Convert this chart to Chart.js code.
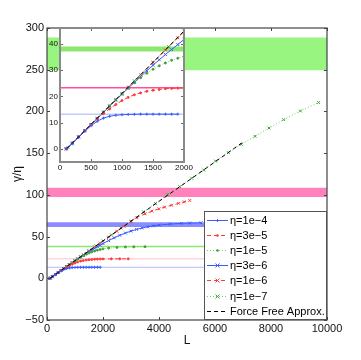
<!DOCTYPE html>
<html><head><meta charset="utf-8">
<script src="https://cdn.jsdelivr.net/npm/chart.js@4.4.1/dist/chart.umd.min.js"></script>
<style>
html,body{margin:0;padding:0;background:#fff;}
#wrap{position:relative;width:361px;height:360px;}
#main{position:absolute;left:0;top:0;width:361px;height:360px;}
#inset{position:absolute;left:40px;top:20px;width:165px;height:160px;}
</style>
</head><body>
<div id="wrap"><canvas id="main" width="361" height="360"></canvas><canvas id="inset" width="165" height="160"></canvas></div>
<script>
// ---------- data ----------
const seriesNames = ['η=1e−4','η=3e−5','η=1e−5','η=3e−6','η=1e−6','η=1e−7','Force Free Approx.'];

const L_1e4 = [100,200,300,400,500,600,700,800,900,1000,1100,1200,1300,1400,1500,1600,1700,1800,1900];
const V_1e4 = [0,2.1,4.4,6.7,8.8,10.5,11.7,12.4,12.8,13.0,13.1,13.15,13.2,13.2,13.2,13.2,13.2,13.2,13.2];

const L_3e5 = [100,200,300,400,500,600,700,800,900,1000,1100,1200,1300,1400,1500,1600,1700,1800,1900,2000,2300,2600,2900];
const V_3e5 = [0,2.2,4.6,6.9,9.2,11.4,13.4,15.2,16.9,18.4,19.6,20.6,21.3,21.9,22.3,22.6,22.9,23.0,23.1,23.2,23.3,23.3,23.3];

const L_1e5 = [100,200,300,400,500,600,700,800,900,1000,1100,1200,1300,1400,1500,1600,1700,1800,1900,2000,2200,2500,2800,3100,3500];
const V_1e5 = [0,2.2,4.6,6.9,9.3,11.6,14.0,16.3,18.6,20.9,23.1,25.2,27.1,28.8,30.3,31.6,32.7,33.7,34.5,35.2,36.2,37.0,37.5,37.7,37.8];

const L_3e6 = [100,200,300,400,500,600,700,800,900,1000,1100,1200,1300,1400,1500,1600,1700,1800,1900,2000,2200,2400,2600,2800,3000,3200,3400,3600,3800,4000,4400,4800,5100,5500];
const V_3e6 = [0,2.2,4.5,6.9,9.2,11.5,13.9,16.2,18.5,20.8,23.1,25.3,27.5,29.7,31.8,33.9,35.9,37.8,39.7,41.6,45.2,48.5,51.5,54.2,56.6,58.6,60.3,61.7,62.8,63.7,65.0,65.8,66.2,66.5];

const L_1e6 = [100,300,500,700,900,1100,1300,1500,1700,1900,2200,2500,2750,3000,3200,3500,3750,4000,4200,4450,4700,4900,5100];
const V_1e6 = [0,4.6,9.3,14.0,18.7,23.5,28.2,32.9,37.6,42.3,49.3,56.3,62.2,67.8,72.5,77.3,80.5,83.3,85.3,87.6,89.8,91.6,93.3];

const L_1e7 = [130,190,400,600,800,1000,1200,1500,1750,2000,2300,2650,3000,3450,3870,4310,4740,5170,5600,6020,6480,6940,7430,7930,8450,9050,9700];
const V_1e7 = [0.5,1.9,7.0,11.7,16.4,21.1,25.9,33.0,38.9,44.8,51.9,60.2,68.5,79.7,89.6,100.4,109.8,119.9,129.8,140.5,150.6,160.6,170.2,180.1,190.1,200.6,210.7];

const L_ff = [110,500,1000,1500,2000,3000,4000,5000,6000,7000];
const V_ff = [0.1,9.3,21.1,32.9,44.8,68.5,92.2,115.8,139.5,163.2];

// asymptote bands (low/high) and single lines, spanning the L range
const bandL = [0, 10000];
const bandLow  = [249.5, 97.5, 61.6, 37.1];
const bandHigh = [288.5, 108.5, 67.2, 39.0];
const lineLevels = [23.3, 13.2];

// tick values
const mainXTicks = [0,2000,4000,6000,8000,10000];
const mainYTicks = [-50,0,50,100,150,200,250,300];
const insetXTicks = [0,500,1000,1500,2000];
const insetYTicks = [0,10,20,30,40];

// ---------- styles ----------
const BLUE='#3a5cff', RED='#ff3b3b', GREEN='#6cd05a', GREEN_M='#3f9f3a';
const seriesStyles = [
  {color:BLUE, dash:[], ptStyle:'cross', r:1.5, ptColor:BLUE, order:0},
  {color:RED, dash:[4,3], ptStyle:'circle', r:1, ptColor:RED, order:0},
  {color:GREEN, dash:[1,2], ptStyle:'circle', r:1, ptColor:GREEN_M, order:0},
  {color:BLUE, dash:[], ptStyle:'crossRot', r:2, ptColor:BLUE, order:0},
  {color:RED, dash:[4,3], ptStyle:'crossRot', r:2, ptColor:RED, order:0},
  {color:GREEN, dash:[1,2], ptStyle:'crossRot', r:2, ptColor:GREEN_M, order:0},
  {color:'#000', dash:[4,3], ptStyle:false, r:0, ptColor:'#000', order:-1}
];
const seriesL = [L_1e4,L_3e5,L_1e5,L_3e6,L_1e6,L_1e7,L_ff];
const seriesV = [V_1e4,V_3e5,V_1e5,V_3e6,V_1e6,V_1e7,V_ff];
const bandColors = ['#98f57f','#ff82bd','#8a8dff','#8ae86e'];

const pts = (xs, ys) => xs.map((x,i)=>({x, y:ys[i]}));

function buildDatasets(lineStyles) {
  const ds = [];
  seriesNames.forEach((name, i) => {
    const s = seriesStyles[i];
    ds.push({
      label: name, data: pts(seriesL[i], seriesV[i]),
      borderColor: s.color, borderWidth: 1, borderDash: s.dash,
      pointStyle: s.ptStyle, pointRadius: s.r, pointBorderColor: s.ptColor,
      pointBackgroundColor: s.ptColor, pointBorderWidth: 1, fill: false,
      tension: 0, order: s.order
    });
  });
  bandLow.forEach((lo, i) => {
    ds.push({ data: pts(bandL, [lo, lo]), borderWidth: 0, pointRadius: 0, fill: false, order: 10 });
    ds.push({ data: pts(bandL, [bandHigh[i], bandHigh[i]]), borderWidth: 0, pointRadius: 0,
              fill: '-1', backgroundColor: bandColors[i], order: 10 });
  });
  lineLevels.forEach((v, i) => {
    ds.push({ data: pts(bandL, [v, v]), borderColor: lineStyles[i].color, borderWidth: lineStyles[i].w,
              pointRadius: 0, fill: false, order: 10 });
  });
  return ds;
}

// ---------- plugins ----------
const framePlugin = {
  id: 'frame',
  beforeDraw(chart, args, o) {
    if (!o.bg) return;
    const a = chart.chartArea, ctx = chart.ctx;
    ctx.save(); ctx.fillStyle = o.bg; ctx.fillRect(a.left, a.top, a.width, a.height); ctx.restore();
  },
  afterDatasetsDraw(chart, args, o) {
    const {ctx, chartArea: a, scales} = chart;
    ctx.save();
    ctx.strokeStyle = o.tickColor; ctx.lineWidth = 1;
    ctx.beginPath();
    scales.x.ticks.forEach(t => {
      const p = Math.round(scales.x.getPixelForValue(t.value)) + 0.5;
      ctx.moveTo(p, a.bottom); ctx.lineTo(p, a.bottom - o.tick);
      ctx.moveTo(p, a.top); ctx.lineTo(p, a.top + o.tick);
    });
    scales.y.ticks.forEach(t => {
      const p = Math.round(scales.y.getPixelForValue(t.value)) + 0.5;
      ctx.moveTo(a.left, p); ctx.lineTo(a.left + o.tick, p);
      ctx.moveTo(a.right, p); ctx.lineTo(a.right - o.tick, p);
    });
    ctx.stroke();
    ctx.strokeStyle = o.color; ctx.lineWidth = o.width;
    ctx.strokeRect(a.left, a.top, a.width, a.height);
    ctx.restore();
  }
};

function drawMarker(ctx, style, x, y, r, color) {
  ctx.save(); ctx.strokeStyle = color; ctx.fillStyle = color; ctx.lineWidth = 1; ctx.setLineDash([]);
  ctx.beginPath();
  if (style === 'circle') { ctx.arc(x, y, r + 0.3, 0, Math.PI*2); ctx.fill(); }
  else if (style === 'cross') { ctx.moveTo(x-r,y); ctx.lineTo(x+r,y); ctx.moveTo(x,y-r); ctx.lineTo(x,y+r); ctx.stroke(); }
  else if (style === 'crossRot') { ctx.moveTo(x-r,y-r); ctx.lineTo(x+r,y+r); ctx.moveTo(x-r,y+r); ctx.lineTo(x+r,y-r); ctx.stroke(); }
  ctx.restore();
}

const boxLegend = {
  id: 'boxLegend',
  afterDraw(chart) {
    const {ctx, chartArea: a} = chart;
    const w = 123, h = 109;
    const x0 = a.right - w, y0 = a.bottom - h;
    ctx.save();
    ctx.fillStyle = '#fff'; ctx.fillRect(x0, y0, w, h);
    ctx.strokeStyle = '#555'; ctx.lineWidth = 1; ctx.strokeRect(x0 + 0.5, y0 + 0.5, w - 1, h - 1);
    ctx.font = '11px "Liberation Sans", Arial, sans-serif';
    ctx.textBaseline = 'middle'; ctx.textAlign = 'left';
    seriesNames.forEach((name, i) => {
      const s = seriesStyles[i];
      const y = Math.round(y0 + 8.5 + i * 15.2) + 0.5;
      ctx.strokeStyle = s.color; ctx.lineWidth = 1; ctx.setLineDash(s.dash);
      ctx.beginPath(); ctx.moveTo(x0 + 3, y); ctx.lineTo(x0 + 24, y); ctx.stroke();
      ctx.setLineDash([]);
      if (s.ptStyle) drawMarker(ctx, s.ptStyle, x0 + 13.5, y, s.r, s.ptColor);
      ctx.fillStyle = '#000';
      ctx.fillText(name, x0 + 26, y);
    });
    ctx.restore();
  }
};

const FONT = '"Liberation Sans", Arial, sans-serif';
const setTicks = arr => (scale) => { scale.ticks = arr.map(v => ({value: v})); };
const fmt = v => String(v).replace('-', '−');

// ---------- main chart ----------
new Chart(document.getElementById('main'), {
  type: 'line',
  data: { datasets: buildDatasets([{color:'#ffbcd4', w:1}, {color:'#b4b8ff', w:1}]) },
  options: {
    responsive: false, animation: false, devicePixelRatio: 1,
    layout: { padding: { left: 0, top: 28, right: 34, bottom: 0 } },
    plugins: { legend: { display: false }, tooltip: { enabled: false },
      frame: { color: '#444', width: 1.2, tick: 3, tickColor: '#444' } },
    scales: {
      x: { type: 'linear', min: 0, max: 10000,
        afterBuildTicks: setTicks(mainXTicks),
        afterFit: s => { s.height = 40; },
        grid: { display: false, drawTicks: false }, border: { display: false },
        ticks: { font: { family: FONT, size: 11 }, color: '#111', padding: 2, maxRotation: 0, callback: fmt },
        title: { display: true, text: 'L', font: { family: FONT, size: 12 }, color: '#111', padding: { top: 12, bottom: 12 } }
      },
      y: { type: 'linear', min: -50, max: 300,
        afterBuildTicks: setTicks(mainYTicks),
        afterFit: s => { s.width = 47; },
        grid: { display: false, drawTicks: false }, border: { display: false },
        ticks: { font: { family: FONT, size: 11 }, color: '#111', padding: 3, callback: fmt },
        title: { display: true, text: 'γ/η', font: { family: FONT, size: 12 }, color: '#111', padding: { top: 10, bottom: 10 } }
      }
    }
  },
  plugins: [framePlugin, boxLegend]
});

// ---------- inset chart ----------
new Chart(document.getElementById('inset'), {
  type: 'line',
  data: { datasets: buildDatasets([{color:'#ff4f9a', w:1.5}, {color:'#aab0ff', w:1}]) },
  options: {
    responsive: false, animation: false, devicePixelRatio: 1,
    layout: { padding: { left: 0, top: 8, right: 21, bottom: 0 } },
    plugins: { legend: { display: false }, tooltip: { enabled: false },
      frame: { bg: '#fff', color: '#8a8a8a', width: 2, tick: 3, tickColor: '#666' } },
    scales: {
      x: { type: 'linear', min: 0, max: 2000,
        afterBuildTicks: setTicks(insetXTicks),
        afterFit: s => { s.height = 18; },
        grid: { display: false, drawTicks: false }, border: { display: false },
        ticks: { font: { family: FONT, size: 8 }, color: '#111', padding: 1, maxRotation: 0, callback: fmt }
      },
      y: { type: 'linear', min: -5, max: 46,
        afterBuildTicks: setTicks(insetYTicks),
        afterFit: s => { s.width = 20; },
        grid: { display: false, drawTicks: false }, border: { display: false },
        ticks: { font: { family: FONT, size: 8 }, color: '#111', padding: 2, callback: fmt }
      }
    }
  },
  plugins: [framePlugin]
});
</script>
</body></html>
